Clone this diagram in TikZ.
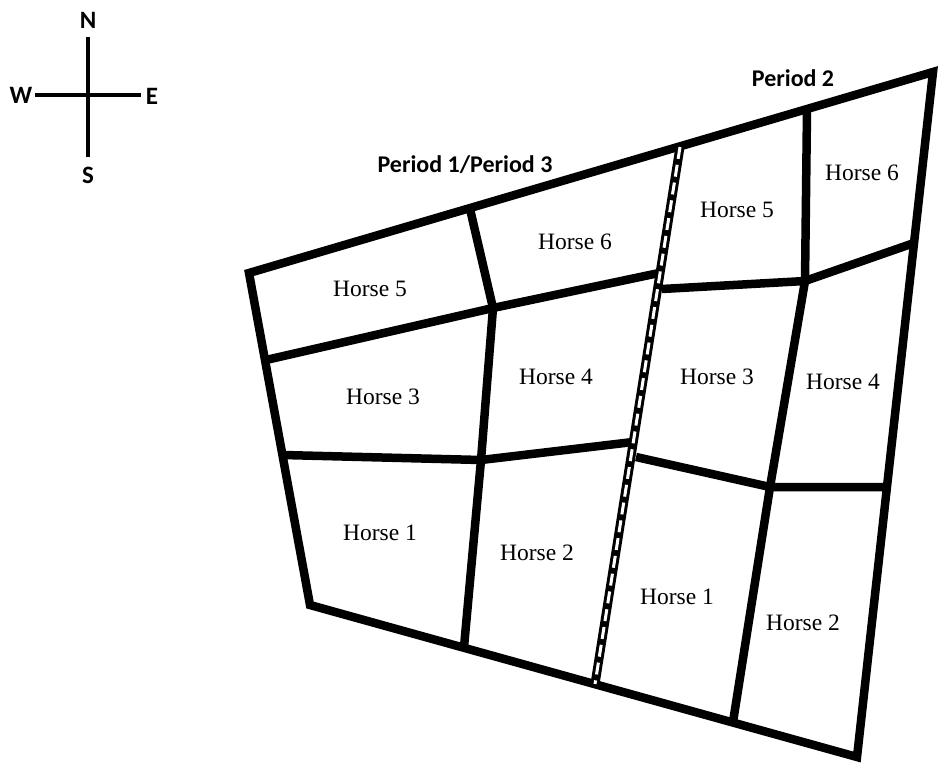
\documentclass[tikz,border=0pt]{standalone}
\usepackage{fontspec}
\setmainfont{Liberation Serif}
\newfontfamily\labelfont{Carlito}
\begin{document}
\begin{tikzpicture}[x=1pt,y=-1pt,
  wall/.style={line width=8.5pt, line join=miter},
  compassline/.style={line width=3.4pt},
  horse/.style={font=\fontsize{23.5}{23.5}\selectfont, inner sep=0pt},
  period/.style={font=\labelfont\bfseries\fontsize{24}{24}\selectfont, inner sep=0pt},
  compassletter/.style={font=\labelfont\bfseries\fontsize{25}{25}\selectfont, inner sep=0pt},
  divblack/.style={line width=9pt},
  divwhite/.style={line width=3pt, white, dash pattern=on 12pt off 6pt}]
\useasboundingbox (0,0) rectangle (939,765);
% outer corners
\coordinate (TL) at (249,273);
\coordinate (TR) at (933,72);
\coordinate (BR) at (857,757);
\coordinate (BL) at (310,605);
% divider
\coordinate (DT) at (680,147);
\coordinate (DB) at (595,684);
\coordinate (DA) at (659,273);
\coordinate (DC) at (662,289);
\coordinate (DD) at (633,442);
\coordinate (DE) at (636,457);
% left half
\coordinate (LV1) at (470,209);
\coordinate (LJ1) at (493,308);
\coordinate (LJ2) at (481,460);
\coordinate (LVB) at (464,647);
\coordinate (LE1) at (266,360);
\coordinate (LE2) at (283,455);
% right half
\coordinate (RV1) at (807,110);
\coordinate (RJ1) at (805,281);
\coordinate (RJ2) at (770,487);
\coordinate (RVB) at (733,722);
\coordinate (RE1) at (914,243);
\coordinate (RE2) at (887,487);

% walls
\draw[wall] (TL) -- (TR) -- (BR) -- (BL) -- cycle;
\draw[wall] (LV1) -- (LJ1) -- (LJ2) -- (LVB);
\draw[wall] (LE1) -- (LJ1) -- (DA);
\draw[wall] (LE2) -- (LJ2) -- (DD);
\draw[wall] (RV1) -- (RJ1) -- (RJ2) -- (RVB);
\draw[wall] (DC) -- (RJ1) -- (RE1);
\draw[wall] (DE) -- (RJ2) -- (RE2);
% divider
\draw[divblack] (DT) -- (DB);
\draw[divwhite] (DT) -- (DB);

% labels
\node[horse] (h5l) at (370,289) {Horse 5};
\node[horse] (h6l) at (575,242) {Horse 6};
\node[horse] (h3l) at (383,397) {Horse 3};
\node[horse] (h4l) at (556,377) {Horse 4};
\node[horse] (h1l) at (380,533) {Horse 1};
\node[horse] (h2l) at (537,553) {Horse 2};
\node[horse] (h5r) at (737,210) {Horse 5};
\node[horse] (h6r) at (862,173) {Horse 6};
\node[horse] (h3r) at (717,377) {Horse 3};
\node[horse] (h4r) at (843,382) {Horse 4};
\node[horse] (h1r) at (677,597) {Horse 1};
\node[horse] (h2r) at (803,623) {Horse 2};

\node[period] (p13) at (465,165) {Period 1/Period 3};
\node[period] (p2) at (793,78) {Period 2};

% compass
\coordinate (CN) at (88,37);
\coordinate (CS) at (88,157);
\coordinate (CW) at (35,95);
\coordinate (CE) at (141,95);
\draw[compassline] (CN) -- (CS);
\draw[compassline] (CW) -- (CE);
\node[compassletter] (nN) at (88,20) {N};
\node[compassletter] (nS) at (88,175) {S};
\node[compassletter] (nW) at (21,95) {W};
\node[compassletter] (nE) at (152,96) {E};
\end{tikzpicture}
\end{document}
